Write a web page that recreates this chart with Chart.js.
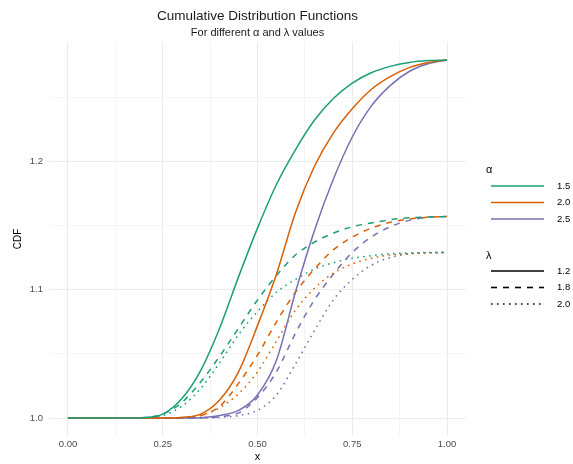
<!DOCTYPE html>
<html>
<head>
<meta charset="utf-8">
<script src="https://cdn.jsdelivr.net/npm/chart.js@4.4.0/dist/chart.umd.min.js"></script>
<style>
  html,body{margin:0;padding:0;background:#fff;}
  #wrap{position:relative;width:573px;height:464px;}
</style>
</head>
<body>
<div id="wrap"><canvas id="c" width="573" height="464"></canvas></div>
<script>
// ---- data ----
const xs = [0,0.05,0.1,0.15,0.2,0.25,0.3,0.35,0.4,0.45,0.5,0.55,0.6,0.65,0.7,0.75,0.8,0.85,0.9,0.95,1.0];
const alphaLevels = ['1.5','2.0','2.5'];
const lambdaLevels = ['1.2','1.8','2.0'];
const xTickValues = [0,0.125,0.25,0.375,0.5,0.625,0.75,0.875,1.0];
const yTickValues = [1.0,1.05,1.1,1.15,1.2,1.25];

const cdf_a15_l12 = [1,1,1,1,1.0003,1.003,1.015,1.037,1.070,1.110,1.148,1.182,1.209,1.232,1.249,1.261,1.269,1.274,1.277,1.2785,1.279];
const cdf_a20_l12 = [1,1,1,1,1,1,1.0005,1.003,1.014,1.036,1.072,1.112,1.160,1.196,1.222,1.241,1.256,1.266,1.273,1.277,1.279];
const cdf_a25_l12 = [1,1,1,1,1,1,1,1.0003,1.002,1.006,1.018,1.045,1.098,1.146,1.186,1.219,1.243,1.259,1.270,1.276,1.279];
const cdf_a15_l18 = [1,1,1,1,1.0004,1.003,1.012,1.028,1.048,1.070,1.092,1.111,1.127,1.137,1.144,1.149,1.152,1.1545,1.156,1.1567,1.157];
const cdf_a20_l18 = [1,1,1,1,1,1,1.0005,1.002,1.009,1.027,1.049,1.075,1.098,1.116,1.131,1.141,1.148,1.1525,1.155,1.1565,1.157];
const cdf_a25_l18 = [1,1,1,1,1,1,1,1.0002,1.001,1.004,1.016,1.036,1.066,1.092,1.112,1.129,1.141,1.149,1.154,1.1565,1.157];
const cdf_a15_l20 = [1,1,1,1,1.0003,1.002,1.009,1.023,1.043,1.065,1.083,1.098,1.108,1.116,1.121,1.1245,1.1265,1.128,1.1285,1.129,1.129];
const cdf_a20_l20 = [1,1,1,1,1,1,1.0004,1.002,1.008,1.019,1.036,1.060,1.084,1.101,1.113,1.120,1.1245,1.127,1.128,1.1287,1.129];
const cdf_a25_l20 = [1,1,1,1,1,1,1,1,1.0005,1.002,1.006,1.018,1.042,1.068,1.092,1.108,1.119,1.125,1.128,1.1288,1.129];

// ---- styling ----
const colors = ['#1B9E77','#D95F02','#7570B3'];
const dashes = [[], [6,6], [1.6,4.4]];
const FONT = '"Liberation Sans", Arial, Helvetica, sans-serif';

const series = [
  [cdf_a15_l12, 0, 0], [cdf_a20_l12, 1, 0], [cdf_a25_l12, 2, 0],
  [cdf_a15_l18, 0, 1], [cdf_a20_l18, 1, 1], [cdf_a25_l18, 2, 1],
  [cdf_a15_l20, 0, 2], [cdf_a20_l20, 1, 2], [cdf_a25_l20, 2, 2]
];

const datasets = series.map(([vals, a, l]) => ({
  label: 'alpha=' + alphaLevels[a] + ', lambda=' + lambdaLevels[l],
  data: xs.map((x, i) => ({x: x, y: vals[i]})),
  borderColor: colors[a],
  borderWidth: 1.5,
  borderDash: dashes[l],
  pointRadius: 0,
  fill: false,
  cubicInterpolationMode: 'monotone'
}));

const isMajorX = v => Math.abs(v*4 - Math.round(v*4)) < 1e-6;
const isMajorY = v => Math.abs(v*10 - Math.round(v*10)) < 1e-6;

const decor = {
  id: 'decor',
  afterDraw(chart) {
    const c = chart.ctx;
    c.save();
    c.textBaseline = 'middle';
    c.textAlign = 'center';
    c.fillStyle = '#1a1a1a';
    c.font = '13.5px ' + FONT;
    c.fillText('Cumulative Distribution Functions', 257.5, 16);
    c.font = '11px ' + FONT;
    c.fillText('For different \u03b1 and \u03bb values', 257.5, 32.5);
    // axis titles
    c.fillStyle = '#000';
    c.font = '11px ' + FONT;
    c.fillText('x', 257.5, 457);
    c.save();
    c.translate(18, 239);
    c.rotate(-Math.PI/2);
    c.font = '10px ' + FONT;
    c.fillText('CDF', 0, 0);
    c.restore();
    // legend
    const lx0 = 491, lx1 = 544, tx = 557;
    c.textAlign = 'left';
    c.font = '11px ' + FONT;
    c.fillStyle = '#000';
    c.fillText('\u03b1', 486, 170);
    c.fillText('\u03bb', 486, 256);
    c.font = '9.5px ' + FONT;
    const ay = [186, 202.5, 219];
    alphaLevels.forEach((lab, i) => {
      c.beginPath(); c.setLineDash([]); c.strokeStyle = colors[i]; c.lineWidth = 1.6;
      c.moveTo(lx0, ay[i]); c.lineTo(lx1, ay[i]); c.stroke();
      c.fillStyle = '#000'; c.fillText(lab, tx, ay[i]);
    });
    const ly = [271, 287.5, 304];
    lambdaLevels.forEach((lab, i) => {
      c.beginPath(); c.setLineDash(dashes[i]); c.strokeStyle = '#000'; c.lineWidth = 1.6;
      c.moveTo(lx0, ly[i]); c.lineTo(lx1, ly[i]); c.stroke();
      c.setLineDash([]);
      c.fillStyle = '#000'; c.fillText(lab, tx, ly[i]);
    });
    c.restore();
  }
};

new Chart(document.getElementById('c'), {
  type: 'line',
  data: { datasets: datasets },
  options: {
    responsive: false,
    animation: false,
    devicePixelRatio: 1,
    layout: { padding: { top: 42, right: 107, left: 0, bottom: 0 } },
    plugins: { legend: { display: false }, title: { display: false }, tooltip: { enabled: false } },
    scales: {
      x: {
        type: 'linear', min: -0.05, max: 1.05,
        afterBuildTicks: s => { s.ticks = xTickValues.map(v => ({value: v})); },
        afterFit: s => { s.height = 28; },
        border: { display: false },
        grid: {
          drawTicks: false,
          color: ctx => (ctx.tick && isMajorX(ctx.tick.value)) ? '#ebebeb' : '#f3f3f3',
          lineWidth: ctx => (ctx.tick && isMajorX(ctx.tick.value)) ? 1 : 0.8
        },
        ticks: {
          autoSkip: false, maxRotation: 0, padding: 3,
          color: '#4d4d4d', font: { size: 9.5, family: FONT },
          callback: v => isMajorX(v) ? v.toFixed(2) : ''
        }
      },
      y: {
        type: 'linear', min: 0.986, max: 1.293,
        afterBuildTicks: s => { s.ticks = yTickValues.map(v => ({value: v})); },
        afterFit: s => { s.width = 49; },
        border: { display: false },
        grid: {
          drawTicks: false,
          color: ctx => (ctx.tick && isMajorY(ctx.tick.value)) ? '#ebebeb' : '#f3f3f3',
          lineWidth: ctx => (ctx.tick && isMajorY(ctx.tick.value)) ? 1 : 0.8
        },
        ticks: {
          autoSkip: false, padding: 6,
          color: '#4d4d4d', font: { size: 9.5, family: FONT },
          callback: v => isMajorY(v) ? v.toFixed(1) : ''
        }
      }
    }
  },
  plugins: [decor]
});
</script>
</body>
</html>
